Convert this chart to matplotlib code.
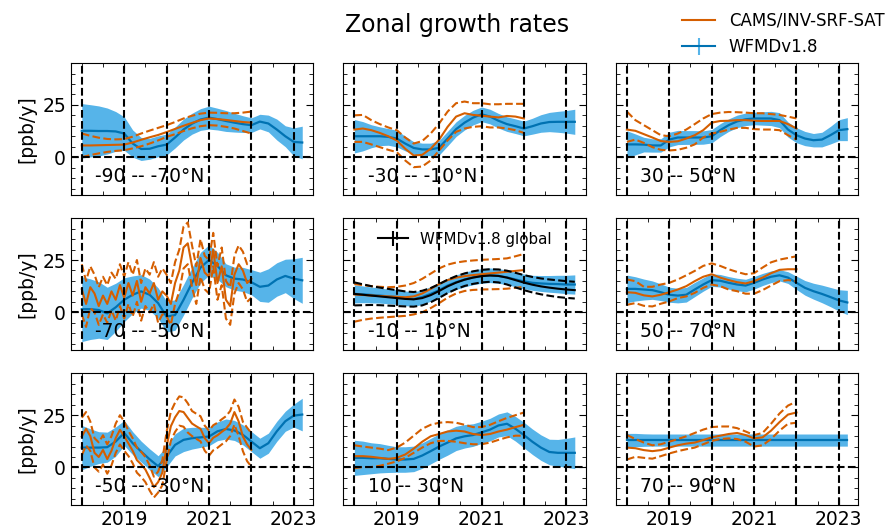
import numpy as np
import matplotlib
matplotlib.use("Agg")
import matplotlib.pyplot as plt
from matplotlib.ticker import MultipleLocator

# time grids (decimal years)
t_sat = np.round(np.arange(2018.0, 2023.21, 0.2), 1)
t_cams = np.round(np.arange(2018.0, 2022.01, 0.2), 1)
t_cams_fine = np.round(np.arange(2018.0, 2022.01, 0.1), 1)

# -90 -- -70N
wfmd_s90 = [12.6, 12.6, 12.5, 12.5, 12.3, 11.3, 6.5, 3.9, 4.0, 5.2, 6.0, 9.4, 13.2, 16.0, 18.0,
            18.9, 18.2, 17.3, 16.5, 15.8, 15.3, 17.0, 16.1, 13.2, 10.0, 7.3, 7.0]
wfmd_err_s90 = [13, 12.5, 12, 11, 9.5, 8, 6.5, 5.5, 5, 5, 5, 5, 5, 5, 5.2, 5.5, 5.2, 5, 4.5, 4,
                3.5, 3.5, 4, 5, 5, 6.7, 7.8]
cams_s90 = [5.6, 5.6, 5.7, 5.8, 5.9, 6.0, 7.0, 8.3, 9.5, 10.6, 12.0, 13.5, 15.0, 16.4, 17.7,
            18.5, 18.2, 17.8, 17.3, 16.8, 16.5]
cams_hi_s90 = [11.3, 10.2, 9.3, 8.7, 8.5, 8.6, 9.8, 11.3, 12.7, 14.0, 15.3, 16.8, 18.5, 19.8,
               20.8, 21.3, 21.2, 21.0, 21.0, 21.3, 21.8]
cams_lo_s90 = [0.0, 1.0, 1.8, 2.5, 3.0, 3.3, 4.2, 5.2, 6.5, 8.0, 9.7, 11.0, 12.5, 13.8, 14.8,
               15.3, 15.1, 14.5, 13.7, 12.5, 11.3]

# -30 -- -10N
wfmd_s30 = [10, 10, 10, 10, 9.7, 8.9, 6.5, 4.4, 3.7, 3.7, 4.5, 8.9, 13.4, 16.5, 18.9, 20.5,
            19.4, 17.4, 15.8, 14.8, 13.7, 14.8, 16.1, 16.8, 16.9, 16.9, 16.9]
wfmd_err_s30 = [8, 7, 5.5, 4.5, 4, 4, 3.5, 3, 3, 3, 3.5, 3.5, 3.5, 3.5, 3.5, 3.5, 3.5, 3.5,
                3.5, 3.5, 3.5, 3.8, 4.2, 4.6, 5, 5.4, 6]
cams_s30 = [13.2, 13.7, 12.9, 11.6, 10.0, 8.0, 4.0, 0.8, 1.1, 4.0, 8.4, 14.5, 19.4, 21.0,
            20.2, 19.8, 19.4, 19.0, 19.7, 19.4, 18.5]
cams_hi_s30 = [20.0, 20.2, 17.7, 15.8, 14.2, 12.9, 9.4, 6.5, 7.7, 11.3, 16.1, 21.8, 25.8,
               26.6, 25.8, 25.8, 25.3, 25.3, 25.5, 25.5, 25.5]
cams_lo_s30 = [7.3, 7.3, 6.1, 4.8, 3.5, 2.4, -1.6, -4.8, -4.5, -1.6, 3.2, 8.0, 12.1, 13.7,
               14.5, 14.8, 14.2, 14.2, 13.7, 12.9, 11.6]

# 30 -- 50N
wfmd_n30 = [6.1, 6.1, 6.0, 5.6, 5.6, 8.4, 9.4, 9.4, 9.4, 9.4, 10.0, 12.9, 15.3, 17.1, 18.1,
            18.5, 18.5, 18.5, 17.7, 13.2, 10.5, 8.9, 8.1, 8.4, 10.5, 12.9, 13.4]
wfmd_err_n30 = [6.5, 5, 3.5, 3.2, 3.2, 3.5, 3.4, 3.3, 3.3, 3.2, 3.2, 3.1, 3, 3, 3, 3, 3.2,
                3.4, 3.6, 3.6, 3.6, 3.4, 3.2, 3.5, 4.2, 5, 5.5]
cams_n30 = [13.2, 12.6, 11.0, 9.4, 7.7, 7.3, 7.6, 8.9, 10.5, 12.9, 16.5, 17.3, 17.4, 17.7,
            17.7, 17.4, 17.3, 17.3, 17.3, 15.8, 13.7]
cams_hi_n30 = [21.8, 17.7, 15.3, 12.9, 10.5, 10.0, 11.3, 13.2, 15.8, 18.5, 20.6, 21.3, 21.6,
               21.5, 21.3, 21.0, 21.0, 20.6, 20.2, 19.4, 18.5]
cams_lo_n30 = [7.3, 8.4, 6.8, 4.8, 3.5, 3.2, 3.5, 4.5, 6.1, 9.4, 11.3, 12.1, 13.2, 14.0,
               14.0, 13.4, 13.2, 13.2, 12.9, 10.5, 8.4]

# -70 -- -50N
wfmd_s70 = [1.5, 1.5, 1.1, -0.5, 2.4, 6.0, 8.4, 10.0, 8.4, 4.4, -2.1, -1.3, 6.0, 14.1, 21.4,
            25.0, 22.2, 17.7, 16.1, 15.7, 14.4, 12.2, 12.8, 15.7, 17.4, 16.1, 15.3]
wfmd_err_s70 = [15.5, 14.5, 13.5, 12.5, 11.5, 10.5, 9, 8, 7.5, 7.3, 7.3, 7.3, 7.3, 7.3, 7.3,
                7.3, 6.5, 5.5, 5.5, 5.8, 6, 7, 8, 8, 8, 9.5, 11]
cams_s70 = [11, 4, 12, 9, 3, 8, 4, 10, 6, 13, 7, 14, 8, 15, 5, 12, 9, 14, 6, 10,
            8, 4, 14, 20, 31, 33, 22, 13, 26, 19, 17, 30, 14, 22, 6, 3, 18, 23, 20, 14, 16]
cams_err_s70 = [12, 11, 10, 9, 9, 9, 9, 9, 10, 10, 10, 10, 10, 10, 9, 9, 9, 10, 11, 11,
                10, 10, 10, 10, 10, 10, 10, 9, 9, 8, 8, 8, 8, 9, 9, 9, 9, 9, 9, 9, 9]

# -10 -- 10N
wfmd_eq = [8.8, 8.6, 8.3, 8.0, 7.6, 7.3, 6.7, 6.3, 7.3, 8.8, 10.6, 12.8, 14.4, 15.7, 16.7,
           17.4, 17.7, 17.4, 16.7, 15.7, 14.8, 14.1, 13.8, 13.6, 13.5, 13.3, 13.3]
wfmd_err_eq = [4.3, 4, 3.8, 3.6, 3.5, 3.5, 3.5, 3.5, 3.5, 3.5, 3.5, 3.5, 3.5, 3.5, 3.5, 3.5,
               3.5, 3.5, 3.5, 3.5, 3.5, 3.6, 3.8, 4, 4.2, 4.4, 4.6]
cams_eq = [8.5, 8.3, 8.0, 7.8, 7.6, 7.4, 7.2, 7.6, 9.0, 11.2, 13.5, 15.4, 16.6, 17.3, 17.8,
           18.2, 18.6, 19.0, 19.4, 19.8, 20.2]
cams_hi_eq = [13.5, 13.0, 12.5, 12.2, 12.0, 12.2, 12.8, 14.0, 16.0, 18.5, 21.0, 22.8, 23.8,
              24.4, 24.8, 25.1, 25.3, 25.5, 25.8, 26.8, 27.9]
cams_lo_eq = [-4.5, -3.6, -3.0, -2.6, -2.3, -2.0, -1.7, -1.0, 0.0, 2.0, 4.4, 7.0, 9.0, 10.2,
              10.7, 10.9, 11.0, 11.1, 11.3, 11.7, 12.2]
wfmd_global = [8.8, 8.4, 8.0, 7.6, 7.2, 6.8, 6.4, 6.2, 6.8, 8.2, 10.2, 12.4, 14.2, 15.6, 16.6,
               17.3, 17.6, 17.4, 16.6, 15.4, 14.2, 13.2, 12.4, 11.8, 11.3, 10.9, 10.6]
wfmd_global_err = [5.5, 5, 4.5, 4.2, 4, 3.8, 3.6, 3.5, 3.5, 3.4, 3.3, 3.2, 3.1, 3, 3, 3, 3,
                   3.1, 3.3, 3.5, 3.6, 3.7, 3.8, 3.9, 4, 4, 4]

# 50 -- 70N
wfmd_n50 = [11.2, 11.2, 10.9, 10.6, 9.6, 8.4, 8.0, 8.4, 10.9, 13.3, 15.4, 15.1, 14.1, 13.3,
            12.8, 14.1, 15.7, 17.0, 17.7, 16.6, 14.1, 11.7, 10.1, 8.8, 7.3, 5.7, 4.7]
wfmd_err_n50 = [6.6, 5.8, 5, 4.4, 4, 3.6, 3.5, 3.5, 3.4, 3.2, 3, 3, 3, 3, 3, 3, 2.9, 2.8, 2.7,
                2.8, 3.2, 3.5, 3.8, 4.2, 4.6, 5.1, 5.8]
cams_n50 = [9.6, 9.3, 8.1, 7.6, 8.4, 9.6, 10.9, 12.5, 14.9, 17.0, 18.2, 16.6, 15.4, 14.4,
            13.8, 14.9, 16.6, 18.7, 20.3, 20.6, 20.6]
cams_hi_n50 = [15.7, 14.9, 12.2, 12.2, 13.3, 14.1, 15.7, 17.7, 19.8, 22.2, 23.4, 22.2, 20.6,
               19.3, 18.2, 18.7, 21.4, 23.9, 25.2, 26.0, 26.8]
cams_lo_n50 = [3.6, 4.4, 3.1, 2.8, 4.1, 5.2, 6.8, 7.6, 9.3, 11.7, 13.3, 12.5, 10.9, 10.1,
               8.9, 8.9, 10.6, 12.8, 14.9, 15.4, 14.9]

# -50 -- -30N
wfmd_s50 = [9.5, 9.5, 9.5, 9.7, 12.4, 16.5, 11.6, 7.6, 3.9, 0.6, 5.2, 10.8, 13.2, 14.0, 14.4,
            14.8, 17.3, 18.4, 17.7, 15.6, 12.4, 9.2, 11.6, 17.3, 22.1, 24.8, 25.3]
wfmd_err_s50 = [10.6, 9, 7.6, 7.2, 7, 6, 5.5, 5, 5, 5, 5, 5.3, 5.6, 5.2, 4.8, 4.4, 4.5, 4.8,
                4.8, 4.8, 4.8, 4.8, 4.8, 4.8, 4.8, 5.5, 7.8]
cams_s50 = [14.8, 18.5, 15, 7, 5, 8.4, 4, 8, 14, 18, 15, 11.5, 8, 3.5, 1.5, -1, -5, -9.4, -7,
            -2.5, 10, 19.7, 24, 27, 26.5, 23.7, 21, 19.7, 18.5, 14, 11.6, 14.2, 15.4, 17,
            18.5, 21, 26.5, 22, 14.8, 11, 8.4]
cams_err_s50 = [9, 8, 7, 7, 7, 7, 7, 7, 7, 7, 7, 6, 6, 6, 6, 6, 6, 5, 5, 6,
                7, 7, 7, 7, 7, 7, 6, 6, 6, 6, 6, 6, 6, 6, 6, 6, 6, 7, 7, 8, 8]

# 10 -- 30N
wfmd_n10 = [4.6, 4.6, 4.4, 4.4, 4.1, 3.8, 3.8, 4.1, 5.7, 7.8, 10.0, 11.9, 13.9, 14.9, 15.5,
            16.8, 18.1, 20.1, 20.9, 18.5, 15.5, 12.3, 9.5, 7.4, 7.0, 7.0, 7.0]
wfmd_err_n10 = [8.4, 8, 7.4, 7, 6.5, 6.1, 6.1, 6.1, 6.1, 6.1, 6.1, 6, 5.8, 5.6, 5.4, 5.3, 5.4,
                5.5, 5.7, 5.9, 6.1, 6.1, 6.1, 6.1, 6.4, 6.9, 7.6]
cams_n10 = [5.4, 5.4, 5.1, 4.6, 4.1, 4.6, 6.2, 9.0, 12.3, 14.9, 16.0, 17.2, 17.6, 17.2, 16.0,
            15.5, 16.0, 17.2, 18.1, 19.3, 20.4]
cams_hi_n10 = [10.6, 10.0, 9.5, 9.0, 8.3, 9.5, 11.9, 15.2, 18.5, 20.4, 21.4, 21.7, 21.4, 20.4,
               19.3, 19.3, 20.4, 22.1, 23.7, 25.0, 26.3]
cams_lo_n10 = [-0.3, 0.2, 0.2, 0.8, 1.8, 2.9, 4.6, 7.0, 9.5, 11.6, 12.7, 12.7, 12.3, 11.6,
               11.1, 11.1, 11.9, 13.2, 14.4, 15.2, 15.2]

# 70 -- 90N
wfmd_n70 = [13.1] * 27
wfmd_err_n70 = [3.2, 3.2, 3.0] + [2.9] * 24
cams_n70 = [9.5, 9.2, 8.3, 7.8, 8.3, 9.5, 10.6, 11.4, 11.9, 13.1, 14.4, 15.2, 16.0, 16.5,
            15.5, 13.9, 14.4, 17.6, 21.7, 25.3, 26.3]
cams_hi_n70 = [15.5, 13.6, 11.9, 10.6, 11.1, 12.3, 13.6, 14.9, 16.5, 18.1, 19.3, 19.6, 19.6,
               18.8, 17.2, 15.5, 16.5, 20.9, 25.8, 29.6, 31.5]
cams_lo_n70 = [3.8, 5.1, 4.6, 4.2, 5.4, 6.7, 7.8, 8.7, 9.5, 11.1, 12.7, 13.6, 13.9, 13.6,
               12.3, 10.0, 10.6, 13.6, 17.6, 20.9, 21.4]

# noisy bands are stored as centre +- spread
cams_lo_s70 = np.array(cams_s70) - np.array(cams_err_s70)
cams_hi_s70 = np.array(cams_s70) + np.array(cams_err_s70)
cams_lo_s50 = np.array(cams_s50) - np.array(cams_err_s50)
cams_hi_s50 = np.array(cams_s50) + np.array(cams_err_s50)

panels = [
    ("-90 -- -70°N", wfmd_s90, wfmd_err_s90, t_cams, cams_s90, cams_lo_s90, cams_hi_s90),
    ("-30 -- -10°N", wfmd_s30, wfmd_err_s30, t_cams, cams_s30, cams_lo_s30, cams_hi_s30),
    ("30 -- 50°N", wfmd_n30, wfmd_err_n30, t_cams, cams_n30, cams_lo_n30, cams_hi_n30),
    ("-70 -- -50°N", wfmd_s70, wfmd_err_s70, t_cams_fine, cams_s70, cams_lo_s70, cams_hi_s70),
    ("-10 -- 10°N", wfmd_eq, wfmd_err_eq, t_cams, cams_eq, cams_lo_eq, cams_hi_eq),
    ("50 -- 70°N", wfmd_n50, wfmd_err_n50, t_cams, cams_n50, cams_lo_n50, cams_hi_n50),
    ("-50 -- -30°N", wfmd_s50, wfmd_err_s50, t_cams_fine, cams_s50, cams_lo_s50, cams_hi_s50),
    ("10 -- 30°N", wfmd_n10, wfmd_err_n10, t_cams, cams_n10, cams_lo_n10, cams_hi_n10),
    ("70 -- 90°N", wfmd_n70, wfmd_err_n70, t_cams, cams_n70, cams_lo_n70, cams_hi_n70),
]

year_lines = [2018, 2019, 2020, 2021, 2022, 2023]

c_wfmd = "#0072B2"
c_band = "#56B4E9"
c_cams = "#D55E00"

fig, axes = plt.subplots(3, 3, figsize=(8.96, 5.3), dpi=100, sharex=True, sharey=True)
fig.subplots_adjust(left=0.079, right=0.958, top=0.881, bottom=0.047, wspace=0.124, hspace=0.178)

for i, (ax, (label, wm, we, tc, cm, clo, chi)) in enumerate(zip(axes.flat, panels)):
    wm = np.array(wm)
    we = np.array(we)
    ax.fill_between(t_sat, wm - we, wm + we, color=c_band, lw=0, zorder=1)
    ax.plot(t_sat, wm, color=c_wfmd, lw=1.6, zorder=2)
    ax.plot(tc, cm, color=c_cams, lw=1.5, zorder=3)
    ax.plot(tc, clo, color=c_cams, lw=1.5, ls="--", zorder=3)
    ax.plot(tc, chi, color=c_cams, lw=1.5, ls="--", zorder=3)

    if label == "-10 -- 10°N":
        gm = np.array(wfmd_global)
        ge = np.array(wfmd_global_err)
        ax.plot(t_sat, gm, color="black", lw=1.5, zorder=4)
        ax.plot(t_sat, gm - ge, color="black", lw=1.5, ls="--", zorder=4)
        ax.plot(t_sat, gm + ge, color="black", lw=1.5, ls="--", zorder=4)
        gh = ax.errorbar([np.nan], [np.nan], yerr=[1], color="black", ecolor="black")
        ax.legend([gh], ["WFMDv1.8 global"], loc="upper center", frameon=False, fontsize=10.8)

    for yr in year_lines:
        ax.axvline(yr, color="black", ls="--", lw=1.5, zorder=5)
    ax.axhline(0, color="black", ls="--", lw=1.5, zorder=5)

    ax.text(0.1, 0.14, label, transform=ax.transAxes, fontsize=13.5, va="center", zorder=6)

    ax.set_xlim(2017.74, 2023.46)
    ax.set_ylim(-18, 45)
    ax.xaxis.set_major_locator(MultipleLocator(2))
    ax.xaxis.set_minor_locator(MultipleLocator(0.5))
    ax.yaxis.set_major_locator(MultipleLocator(25))
    ax.yaxis.set_minor_locator(MultipleLocator(5))
    ax.tick_params(which="both", direction="in", top=True, right=True, labelsize=13.5)
    ax.tick_params(which="major", length=5)
    ax.tick_params(which="minor", length=3)
    ax.set_xticks([2019, 2021, 2023])
    ax.set_xticklabels(["2019", "2021", "2023"])

    if i % 3 == 0:
        ax.set_ylabel("[ppb/y]", fontsize=13.5)

# legend handles for the whole figure
h_cams, = axes[0, 0].plot([], [], color=c_cams, lw=1.5)
h_wfmd = axes[0, 0].errorbar([np.nan], [np.nan], yerr=[1], color=c_wfmd, ecolor=c_band)
fig.legend([h_cams, h_wfmd], ["CAMS/INV-SRF-SAT", "WFMDv1.8"], loc="upper right",
           frameon=False, fontsize=12, borderaxespad=0.3)

fig.suptitle("Zonal growth rates", fontsize=17, x=0.51, y=0.975)

plt.savefig("out.png", dpi=100)
